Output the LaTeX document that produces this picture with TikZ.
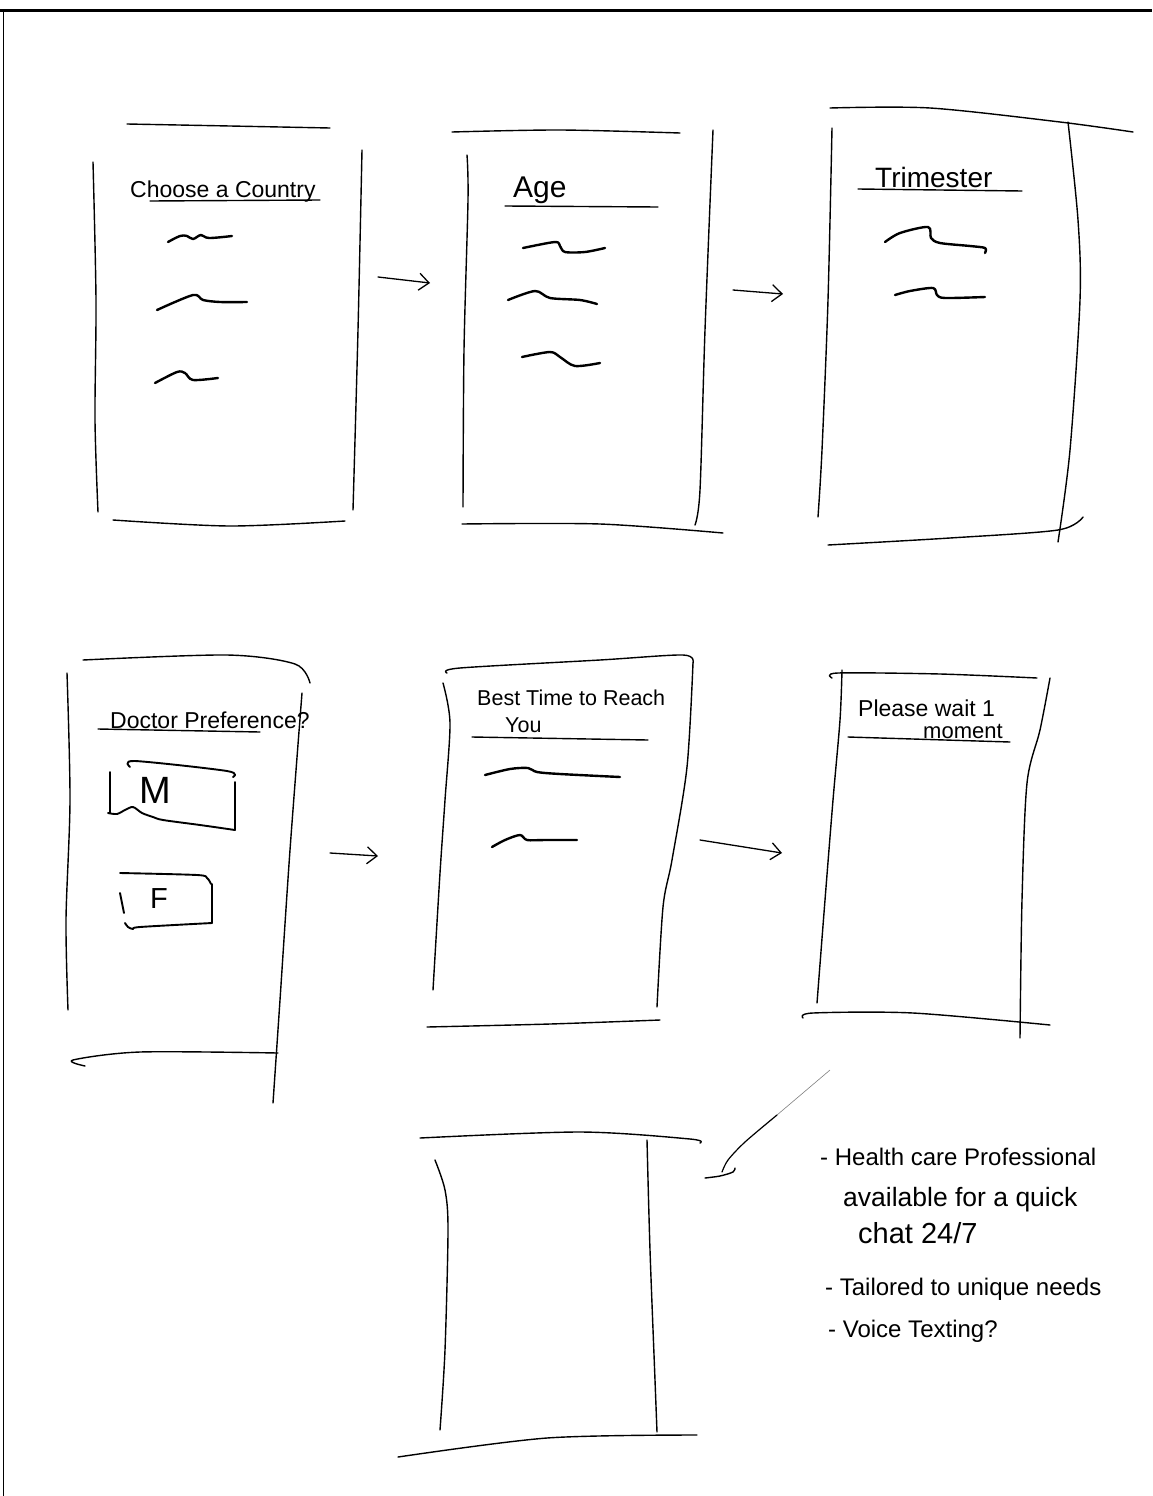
\documentclass[tikz,border=0pt]{standalone}
\usepackage{fontspec}
\setmainfont{Liberation Sans}
\usetikzlibrary{arrows.meta}
\begin{document}
\begin{tikzpicture}[x=1pt,y=-1pt,
  frame/.style={line width=1.4pt, line cap=round, line join=round},
  pen/.style={line width=2.4pt, line cap=round, line join=round},
  rule/.style={line width=1.4pt, line cap=round},
  flow/.style={line width=1.3pt, line cap=round, -{Straight Barb[length=10pt,width=17pt,line width=1.3pt]}},
  title/.style={anchor=base west, inner sep=0pt, font=\fontsize{22}{26}\selectfont},
  bigtitle/.style={anchor=base west, inner sep=0pt, font=\fontsize{30}{34}\selectfont},
  note/.style={anchor=base west, inner sep=0pt, font=\fontsize{24}{28}\selectfont}]
\useasboundingbox (0,0) rectangle (1152,1496);
\fill[white] (0,0) rectangle (1152,1496);
% scan edges
\draw[line width=3pt] (0,11) -- (1152,11);
\draw[line width=1pt] (3,11) -- (3,1496);

% ---------- Panel 1: Choose a Country ----------
\draw[frame] plot[smooth] coordinates {(127,124) (230,126) (330,128)};
\draw[frame] plot[smooth] coordinates {(93,162) (96,300) (95,420) (98,512)};
\draw[frame] plot[smooth] coordinates {(362,150) (358,330) (353,510)};
\draw[frame] plot[smooth] coordinates {(113,520) (230,526) (345,521)};
\node[title, font=\fontsize{23}{27}\selectfont] (t1) at (130,197) {Choose a Country};
\draw[rule] (150,201) -- (320,200);
\draw[pen] plot[smooth, tension=0.6] coordinates {(168,242) (180,236) (187,236) (193,239) (201,235) (209,238) (232,236)};
\draw[pen] plot[smooth] coordinates {(157,310) (193,295) (203,300) (220,302) (247,302)};
\draw[pen] plot[smooth] coordinates {(155,383) (177,372) (185,373) (193,380) (218,378)};

% ---------- Panel 2: Age ----------
\draw[frame] plot[smooth] coordinates {(452,132) (560,130) (680,133)};
\draw[frame] plot[smooth] coordinates {(467,155) (468,200) (464,350) (463,507)};
\draw[frame] plot[smooth] coordinates {(713,130) (705,330) (700,490) (695,525)};
\draw[frame] plot[smooth] coordinates {(462,524) (600,524) (723,533)};
\node[bigtitle] (t2) at (513,197) {Age};
\draw[rule] (505,206) -- (658,207);
\draw[pen] plot[smooth] coordinates {(523,248) (555,242) (560,246) (565,252) (585,252) (605,248)};
\draw[pen] plot[smooth] coordinates {(508,300) (535,291) (550,298) (580,300) (597,304)};
\draw[pen] plot[smooth] coordinates {(522,357) (550,352) (560,357) (575,366) (600,363)};

% ---------- Panel 3: Trimester ----------
\draw[frame] plot[smooth] coordinates {(830,108) (930,108) (1060,122) (1133,132)};
\draw[frame] plot[smooth] coordinates {(832,128) (828,300) (822,450) (818,517)};
\draw[frame] plot[smooth] coordinates {(1068,122) (1078,220) (1080,300) (1070,450) (1058,542)};
\draw[frame] plot[smooth] coordinates {(828,545) (950,538) (1058,530) (1083,517)};
\node[title, font=\fontsize{28}{32}\selectfont] (t3) at (875,187) {Trimester};
\draw[rule] (858,189) -- (1022,191);
\draw[pen] plot[smooth] coordinates {(885,242) (900,233) (928,227) (931,238) (940,243) (970,246) (985,248) (985,253)};
\draw[pen] plot[smooth] coordinates {(895,295) (910,291) (933,288) (937,295) (945,298) (985,297)};

% ---------- Panel 4: Doctor Preference ----------
\draw[frame] plot[smooth] coordinates {(83,660) (227,655) (295,664) (310,683)};
\draw[frame] plot[smooth] coordinates {(67,673) (70,800) (66,920) (68,1010)};
\draw[frame] plot[smooth] coordinates {(302,693) (290,850) (280,1000) (273,1103)};
\draw[frame] plot[smooth] coordinates {(85,1066) (73,1060) (140,1052) (278,1053)};
\node[title, font=\fontsize{23}{27}\selectfont] (t4) at (110,728) {Doctor Preference?};
\draw[rule] (98,729) -- (260,732);
% M button
\draw[pen, line width=1.9pt] plot[smooth] coordinates {(130,767) (135,761) (227,771) (233,777)};
\draw[pen, line width=1.9pt] (235,782) -- (235,830);
\draw[pen, line width=1.9pt] plot[smooth] coordinates {(235,830) (200,825) (163,820) (153,817) (142,813) (133,807) (125,810) (117,814) (108,813)};
\draw[pen, line width=1.9pt] (110,772) -- (110,813);
\node[anchor=base west, inner sep=0pt, font=\fontsize{38}{40}\selectfont] (m) at (139,803) {M};
% F button
\draw[pen, line width=1.9pt] plot[smooth] coordinates {(120,873) (197,875) (207,878) (211,884)};
\draw[pen, line width=1.9pt] (212,884) -- (212,923);
\draw[pen, line width=1.9pt] plot[smooth] coordinates {(212,923) (140,927) (133,929) (128,927) (125,923)};
\draw[pen, line width=1.9pt] (120,893) -- (124,913);
\node[anchor=base west, inner sep=0pt, font=\fontsize{29}{32}\selectfont] (f) at (150,908) {F};

% ---------- Panel 5: Best Time to Reach You ----------
\draw[frame] plot[smooth] coordinates {(447,673) (460,668) (600,660) (683,655) (693,663)};
\draw[frame] plot[smooth] coordinates {(693,663) (687,767) (672,860) (663,907) (657,1007)};
\draw[frame] plot[smooth] coordinates {(443,683) (450,723) (445,800) (440,873) (433,990)};
\draw[frame] plot[smooth] coordinates {(427,1027) (550,1024) (660,1020)};
\node[title, font=\fontsize{21.5}{25}\selectfont] (t5) at (477,705) {Best Time to Reach};
\node[title, font=\fontsize{21.5}{25}\selectfont] (t5b) at (505,732) {You};
\draw[rule] (472,737) -- (648,740);
\draw[pen] plot[smooth] coordinates {(485,775) (510,769) (528,768) (537,772) (560,774) (620,777)};
\draw[pen] plot[smooth] coordinates {(492,847) (505,840) (520,835) (527,840) (545,840) (577,840)};

% ---------- Panel 6: Please wait 1 moment ----------
\draw[frame] plot[smooth] coordinates {(832,678) (838,673) (940,674) (1037,678)};
\draw[frame] plot[smooth] coordinates {(842,670) (840,720) (833,800) (825,900) (817,1003)};
\draw[frame] plot[smooth] coordinates {(1050,678) (1040,730) (1027,783) (1022,900) (1020,1038)};
\draw[frame] plot[smooth] coordinates {(803,1018) (813,1013) (913,1013) (1050,1025)};
\node[title, font=\fontsize{23}{27}\selectfont] (t6) at (858,716) {Please wait 1};
\node[title, font=\fontsize{22}{26}\selectfont] (t6b) at (923,738) {moment};
\draw[rule] (848,737) -- (1010,742);

% ---------- Panel 7: empty screen ----------
\draw[frame] plot[smooth] coordinates {(420,1138) (580,1132) (690,1139) (700,1143)};
\draw[frame] plot[smooth] coordinates {(435,1160) (445,1190) (448,1230) (445,1350) (440,1430)};
\draw[frame] plot[smooth] coordinates {(647,1140) (650,1250) (655,1380) (657,1432)};
\draw[frame] plot[smooth] coordinates {(398,1457) (547,1438) (697,1435)};

% ---------- Notes ----------
\node[note] (n1) at (820,1165) {- Health care Professional};
\node[note, font=\fontsize{26.5}{30}\selectfont] (n2) at (843,1206) {available for a quick};
\node[note, font=\fontsize{29}{32}\selectfont] (n3) at (858,1243) {chat 24/7};
\node[note] (n4) at (825,1295) {- Tailored to unique needs};
\node[note] (n5) at (828,1337) {- Voice Texting?};

% ---------- connectors ----------
\coordinate (a1s) at (378,277); \coordinate (a1e) at (430,283);
\coordinate (a2s) at (733,290); \coordinate (a2e) at (783,294);
\coordinate (a3s) at (330,853); \coordinate (a3e) at (378,856);
\coordinate (a4s) at (700,840); \coordinate (a4e) at (782,853);
\draw[flow] (a1s) -- (a1e);
\draw[flow] (a2s) -- (a2e);
\draw[flow] (a3s) -- (a3e);
\draw[flow] (a4s) -- (a4e);
\coordinate (d0) at (830,1070);
\coordinate (d1) at (777,1115);
\coordinate (d2) at (722,1172);
\draw[line width=0.6pt, gray] (d0) -- (d1);
\draw[line width=1.2pt, line cap=round] plot[smooth] coordinates {(d1) (745,1142) (728,1160) (722,1172)};
\draw[line width=1.4pt, line cap=round] plot[smooth] coordinates {(705,1178) (720,1176) (733,1172) (735,1168)};
\end{tikzpicture}
\end{document}
